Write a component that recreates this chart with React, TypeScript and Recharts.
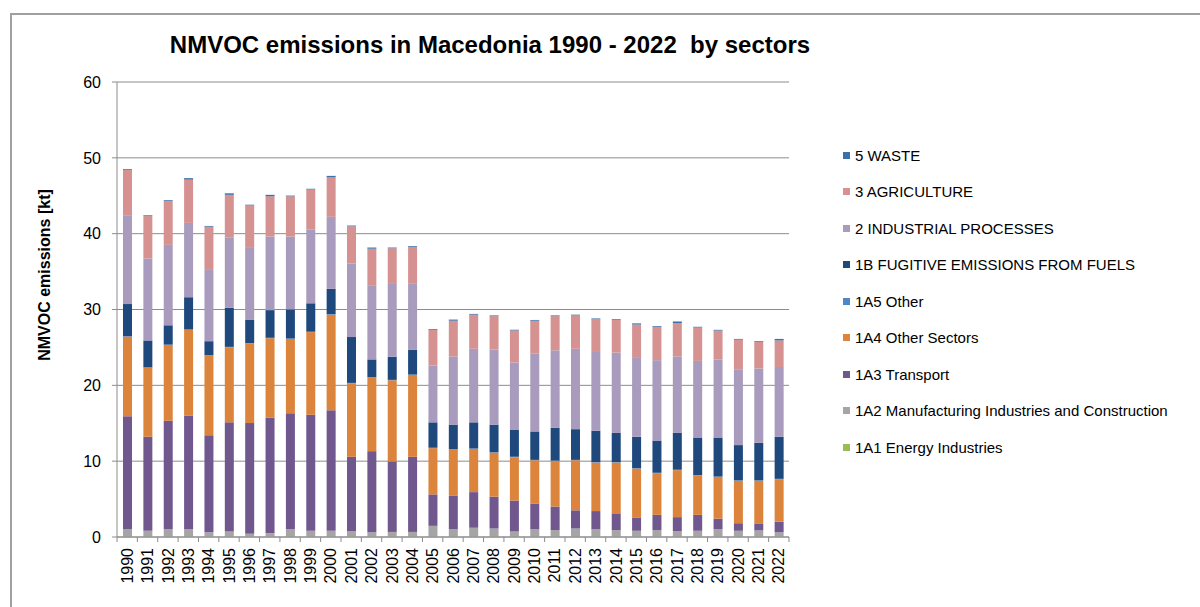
import { Bar, BarChart, CartesianGrid, XAxis, YAxis } from "recharts";

const years = [
  "1990", "1991", "1992", "1993", "1994", "1995", "1996", "1997", "1998", "1999", "2000",
  "2001", "2002", "2003", "2004", "2005", "2006", "2007", "2008", "2009", "2010", "2011",
  "2012", "2013", "2014", "2015", "2016", "2017", "2018", "2019", "2020", "2021", "2022",
];

const energy = [
  0.02, 0.02, 0.02, 0.02, 0.02, 0.02, 0.02, 0.02, 0.02, 0.02, 0.02,
  0.02, 0.02, 0.02, 0.02, 0.02, 0.02, 0.02, 0.02, 0.02, 0.02, 0.02,
  0.02, 0.02, 0.02, 0.02, 0.02, 0.02, 0.02, 0.02, 0.02, 0.02, 0.02,
];
const manufacturing = [
  1.0, 0.8, 1.0, 1.0, 0.6, 0.7, 0.4, 0.5, 1.0, 0.8, 0.8,
  0.75, 0.6, 0.65, 0.65, 1.45, 1.0, 1.2, 1.1, 0.7, 1.0, 0.9,
  1.1, 1.0, 0.9, 0.8, 0.9, 0.75, 0.8, 1.0, 0.8, 0.85, 0.6,
];
const transport = [
  14.9, 12.4, 14.3, 15.0, 12.8, 14.4, 14.6, 15.2, 15.3, 15.3, 15.9,
  9.8, 10.7, 9.3, 9.9, 4.15, 4.4, 4.7, 4.2, 4.1, 3.4, 3.1,
  2.4, 2.4, 2.2, 1.7, 2.0, 1.85, 2.1, 1.4, 1.0, 0.85, 1.4,
];
const otherSectors = [
  10.5, 9.1, 10.0, 11.3, 10.5, 9.9, 10.5, 10.5, 9.8, 10.9, 12.6,
  9.7, 9.7, 10.7, 10.8, 6.1, 6.1, 5.7, 5.8, 5.7, 5.7, 6.0,
  6.6, 6.4, 6.7, 6.5, 5.5, 6.2, 5.2, 5.5, 5.6, 5.7, 5.6,
];
const other = [
  0.05, 0.05, 0.05, 0.05, 0.05, 0.05, 0.05, 0.05, 0.05, 0.05, 0.05,
  0.05, 0.05, 0.05, 0.05, 0.05, 0.05, 0.05, 0.05, 0.05, 0.05, 0.05,
  0.05, 0.05, 0.05, 0.05, 0.05, 0.05, 0.05, 0.05, 0.05, 0.05, 0.05,
];
const fugitive = [
  4.25, 3.55, 2.55, 4.25, 1.85, 5.15, 3.05, 3.65, 3.85, 3.75, 3.35,
  6.05, 2.35, 3.05, 3.25, 3.35, 3.25, 3.45, 3.65, 3.55, 3.75, 4.35,
  4.05, 4.15, 3.85, 4.15, 4.25, 4.85, 4.95, 5.15, 4.65, 4.95, 5.55,
];
const industrial = [
  11.7, 10.8, 10.6, 9.8, 9.4, 9.3, 9.5, 9.7, 9.6, 9.7, 9.5,
  9.7, 9.7, 9.6, 8.8, 7.5, 9.0, 9.7, 9.9, 8.9, 10.3, 10.2,
  10.6, 10.5, 10.6, 10.5, 10.6, 10.1, 10.1, 10.3, 10.0, 9.8, 9.2,
];
const agriculture = [
  6.0, 5.6, 5.8, 5.7, 5.7, 5.6, 5.6, 5.3, 5.3, 5.3, 5.2,
  4.9, 4.9, 4.7, 4.8, 4.7, 4.7, 4.5, 4.4, 4.2, 4.3, 4.5,
  4.4, 4.2, 4.3, 4.3, 4.4, 4.4, 4.4, 3.8, 3.9, 3.5, 3.5,
];
const waste = [
  0.1, 0.1, 0.1, 0.2, 0.1, 0.2, 0.1, 0.2, 0.1, 0.1, 0.2,
  0.1, 0.15, 0.1, 0.1, 0.1, 0.15, 0.1, 0.1, 0.1, 0.1, 0.1,
  0.1, 0.1, 0.1, 0.15, 0.1, 0.2, 0.1, 0.1, 0.1, 0.1, 0.2,
];

const yTicks = [0, 10, 20, 30, 40, 50, 60];

// bottom of the stack first
const series = [
  { key: "a1", name: "1A1 Energy Industries", color: "#9bbb59", values: energy },
  { key: "a2", name: "1A2 Manufacturing Industries and Construction", color: "#a5a5a5", values: manufacturing },
  { key: "a3", name: "1A3 Transport", color: "#70588f", values: transport },
  { key: "a4", name: "1A4 Other Sectors", color: "#dd843c", values: otherSectors },
  { key: "a5", name: "1A5 Other", color: "#4f86c6", values: other },
  { key: "b1", name: "1B FUGITIVE EMISSIONS FROM FUELS", color: "#1f497d", values: fugitive },
  { key: "ip", name: "2 INDUSTRIAL PROCESSES", color: "#a99bbd", values: industrial },
  { key: "ag", name: "3 AGRICULTURE", color: "#d59291", values: agriculture },
  { key: "ws", name: "5 WASTE", color: "#3d6fa8", values: waste },
];

const rows = years.map((year, i) => {
  const row: Record<string, string | number> = { year };
  series.forEach((s) => (row[s.key] = s.values[i]));
  return row;
});

const FONT = "'Liberation Sans', Arial, sans-serif";
const GRID = "#8c8c8c";
const PLOT_LEFT = 117;
const PLOT_RIGHT = 789;
const band = (PLOT_RIGHT - PLOT_LEFT) / years.length;
const LABEL_GAP = 11;

function YearTick(props: any) {
  const { x, y, payload, index } = props;
  const top = y - LABEL_GAP;
  return (
    <g>
      <line x1={x - band / 2} x2={x - band / 2} y1={top} y2={top + 5} stroke={GRID} />
      {index === years.length - 1 && (
        <line x1={x + band / 2} x2={x + band / 2} y1={top} y2={top + 5} stroke={GRID} />
      )}
      <text
        transform={`translate(${x},${y}) rotate(-90)`}
        textAnchor="end"
        dy="0.35em"
        fontSize={16}
        fontFamily={FONT}
        fill="#000"
      >
        {payload.value}
      </text>
    </g>
  );
}

export default function App() {
  return (
    <div style={{ position: "relative", width: 1200, height: 607, overflow: "hidden", background: "#fff" }}>
      <style>{`body{margin:0;overflow:hidden}`}</style>
      <div
        style={{
          position: "absolute",
          left: 10,
          top: 13,
          width: 1300,
          height: 700,
          border: "2px solid #a0a0a0",
          boxSizing: "border-box",
        }}
      />
      <BarChart
        width={1200}
        height={607}
        data={rows}
        margin={{ top: 82, right: 1200 - PLOT_RIGHT, bottom: 0, left: 0 }}
        barSize={9}
      >
        <CartesianGrid vertical={false} stroke={GRID} />
        <XAxis
          dataKey="year"
          interval={0}
          height={70}
          tickLine={false}
          tickSize={0}
          tickMargin={LABEL_GAP}
          axisLine={{ stroke: GRID }}
          tick={<YearTick />}
        />
        <YAxis
          width={PLOT_LEFT}
          domain={[0, 60]}
          ticks={yTicks}
          axisLine={{ stroke: GRID }}
          tickLine={{ stroke: GRID }}
          tickSize={5}
          tickMargin={11}
          tick={{ fontSize: 16, fill: "#000", fontFamily: FONT }}
        />
        {series.map((s) => (
          <Bar key={s.key} dataKey={s.key} name={s.name} stackId="s" fill={s.color} isAnimationActive={false} />
        ))}
      </BarChart>
      <div
        style={{
          position: "absolute",
          left: 490,
          top: 33,
          transform: "translateX(-50%)",
          fontFamily: FONT,
          fontWeight: "bold",
          fontSize: 24,
          lineHeight: 1,
          whiteSpace: "pre",
        }}
      >
        NMVOC emissions in Macedonia 1990 - 2022  by sectors
      </div>
      <div
        style={{
          position: "absolute",
          left: 45,
          top: 275,
          transform: "translate(-50%,-50%) rotate(-90deg)",
          fontFamily: FONT,
          fontWeight: "bold",
          fontSize: 16,
          whiteSpace: "nowrap",
        }}
      >
        NMVOC emissions [kt]
      </div>
      <div style={{ position: "absolute", left: 843, top: 137, fontFamily: FONT, fontSize: 15 }}>
        {[...series].reverse().map((s) => (
          <div key={s.key} style={{ height: 36.5, display: "flex", alignItems: "center", whiteSpace: "nowrap" }}>
            <span style={{ width: 7, height: 7, background: s.color, marginRight: 5, display: "inline-block" }} />
            {s.name}
          </div>
        ))}
      </div>
    </div>
  );
}
